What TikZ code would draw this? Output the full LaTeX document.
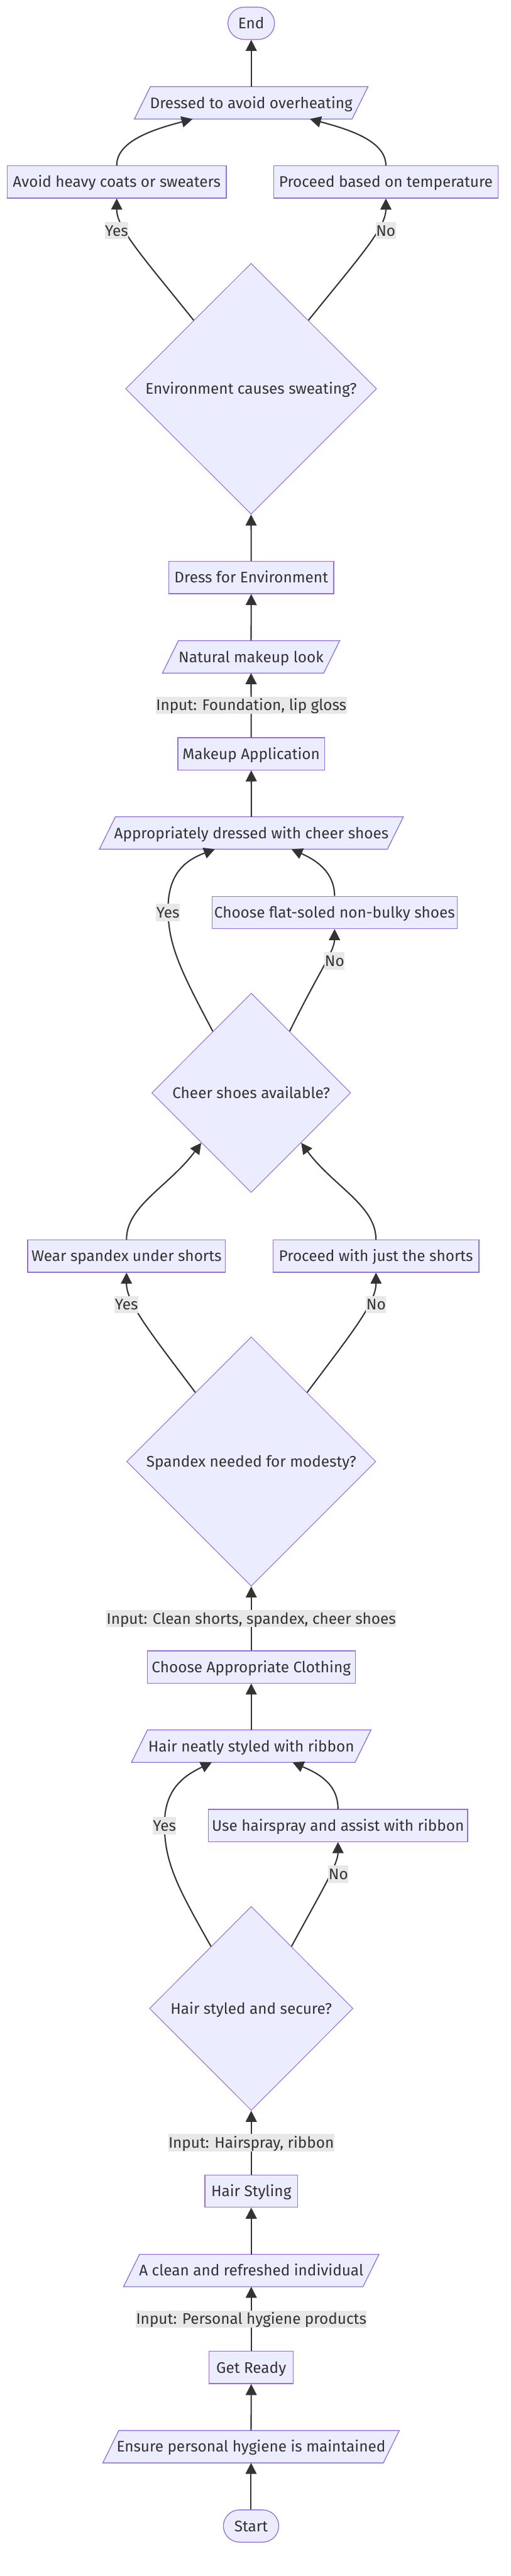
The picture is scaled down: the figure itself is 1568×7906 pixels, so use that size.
\documentclass[tikz,border=0pt]{standalone}
\usepackage{fontspec}
\setmainfont{Fira Sans}
\usetikzlibrary{shapes.geometric,shapes.misc,arrows.meta,backgrounds}
\definecolor{nodefill}{HTML}{ECECFF}
\definecolor{nodeline}{HTML}{9370DB}
\definecolor{edgecol}{HTML}{333333}
\definecolor{lblbg}{HTML}{E8E8E8}
\newcommand\drawpara[1]{\path[draw=nodeline, fill=nodefill, line width=2.5pt]
  ([xshift=-24.5pt]#1.south west) -- ([xshift=-24.5pt]#1.south east) --
  ([xshift=24.5pt]#1.north east) -- ([xshift=24.5pt]#1.north west) -- cycle;}
\tikzset{
  base/.style={font=\fontsize{47pt}{56pt}\selectfont, text=edgecol, inner sep=0pt,
    text height=33pt, text depth=0pt, align=center},
  proc/.style={base, rectangle, draw=nodeline, fill=nodefill, line width=2.5pt, minimum height=99pt},
  term/.style={base, rounded rectangle, draw=nodeline, fill=nodefill, line width=2.5pt, minimum height=99pt},
  decision/.style={base, diamond, aspect=1, draw=nodeline, fill=nodefill, line width=2pt},
  paratext/.style={base, minimum height=99pt},
  lbl/.style={base, fill=lblbg, minimum height=53pt, inner xsep=1pt},
  arr/.style={draw=edgecol, line width=4pt, -{Triangle[length=34pt,width=34pt]}}
}
\begin{document}
\begin{tikzpicture}[x=1pt,y=-1pt]
\useasboundingbox (0,0) rectangle (1568,7906);

% nodes
\node[term, minimum width=143pt] (end) at (771.5,71.5) {End};
\node[paratext, minimum width=668pt] (dressed) at (771.5,315.5) {Dressed to avoid overheating};
\node[proc, minimum width=673pt] (avoid) at (358.5,558.5) {Avoid heavy coats or sweaters};
\node[proc, minimum width=690pt] (ptemp) at (1185,558.5) {Proceed based on temperature};
\node[decision, minimum width=771pt, minimum height=770pt] (env) at (771,1193) {Environment causes sweating?};
\node[proc, minimum width=507pt] (dressenv) at (771.5,1772.5) {Dress for Environment};
\node[paratext, minimum width=495pt] (natural) at (771,2016) {Natural makeup look};
\node[proc, minimum width=451pt] (makeup) at (771.5,2313.5) {Makeup Application};
\node[paratext, minimum width=884pt] (appr) at (772,2556.5) {Appropriately dressed with cheer shoes};
\node[proc, minimum width=753pt] (flat) at (1027.5,2800.5) {Choose flat-soled non-bulky shoes};
\node[decision, minimum width=611pt, minimum height=612pt] (cheer) at (771.5,3354) {Cheer shoes available?};
\node[proc, minimum width=607pt] (wear) at (388.5,3855) {Wear spandex under shorts};
\node[proc, minimum width=633pt] (just) at (1154.5,3855) {Proceed with just the shorts};
\node[decision, minimum width=765pt, minimum height=765pt] (spx) at (771.5,4485.5) {Spandex needed for modesty?};
\node[proc, minimum width=639pt] (clothing) at (771.5,5116) {Choose Appropriate Clothing};
\node[paratext, minimum width=686pt] (neat) at (771.5,5359) {Hair neatly styled with ribbon};
\node[proc, minimum width=796pt] (usehs) at (1038,5602.5) {Use hairspray and assist with ribbon};
\node[decision, minimum width=625pt, minimum height=626pt] (hair) at (771.5,6164) {Hair styled and secure?};
\node[proc, minimum width=285pt] (hstyle) at (771.5,6724.5) {Hair Styling};
\node[paratext, minimum width=735pt] (clean) at (771.5,6968.5) {A clean and refreshed individual};
\node[proc, minimum width=259pt] (ready) at (771.5,7266) {Get Ready};
\node[paratext, minimum width=861pt] (ensure) at (771,7509) {Ensure personal hygiene is maintained};
\node[term, minimum width=170pt] (start) at (771,7752.5) {Start};

\begin{pgfonlayer}{background}
\fill[white] (0,0) rectangle (1568,7906);
\drawpara{dressed}
\drawpara{natural}
\drawpara{appr}
\drawpara{neat}
\drawpara{clean}
\drawpara{ensure}
\end{pgfonlayer}

% straight edges
\draw[arr] (start.north) -- (ensure.south);
\draw[arr] (ensure.north) -- (ready.south);
\draw[arr] (ready.north) -- (clean.south);
\draw[arr] (clean.north) -- (hstyle.south);
\draw[arr] (hstyle.north) -- (hair.south);
\draw[arr] (neat.north) -- (clothing.south);
\draw[arr] (clothing.north) -- (spx.south);
\draw[arr] (appr.north) -- (makeup.south);
\draw[arr] (makeup.north) -- (natural.south);
\draw[arr] (natural.north) -- (dressenv.south);
\draw[arr] (dressenv.north) -- (env.south);
\draw[arr] (dressed.north) -- (end.south);

% curved edges
\draw[arr] (env.130) .. controls (440,790) and (358,700) .. (avoid.south);
\draw[arr] (env.50) .. controls (1103,790) and (1185,700) .. (ptemp.south);
\draw[arr] (avoid.north) .. controls (358,430) and (480,395) .. ([xshift=-180pt]dressed.south);
\draw[arr] (ptemp.north) .. controls (1185,430) and (1063,395) .. ([xshift=180pt]dressed.south);

\draw[arr] (cheer.122) .. controls (555,2980) and (516,2900) .. (516,2790) .. controls (516,2680) and (570,2640) .. ([xshift=-112pt]appr.south);
\draw[arr] (cheer.58) .. controls (975,2990) and (1027,2920) .. (flat.south);
\draw[arr] (flat.north) .. controls (1027,2670) and (960,2635) .. ([xshift=123pt]appr.south);

\draw[arr] (spx.129) .. controls (470,4100) and (388,4000) .. (wear.south);
\draw[arr] (spx.51) .. controls (1073,4100) and (1155,4000) .. (just.south);
\draw[arr] (wear.north) .. controls (388,3700) and (520,3640) .. (cheer.225);
\draw[arr] (just.north) .. controls (1155,3700) and (1023,3640) .. (cheer.-45);

\draw[arr] (hair.123) .. controls (550,5800) and (505,5720) .. (505,5600) .. controls (505,5490) and (565,5450) .. ([xshift=-121pt]neat.south);
\draw[arr] (hair.57) .. controls (990,5800) and (1038,5720) .. (usehs.south);
\draw[arr] (usehs.north) .. controls (1038,5470) and (970,5440) .. ([xshift=127pt]neat.south);

% edge labels
\node[lbl] (l1) at (358,707.5) {Yes};
\node[lbl] (l2) at (1184.5,707.5) {No};
\node[lbl] (l3) at (771.5,2164.5) {Input: Foundation, lip gloss};
\node[lbl] (l4) at (515.5,2800.5) {Yes};
\node[lbl] (l5) at (1027.5,2949.5) {No};
\node[lbl] (l6) at (388.5,4004) {Yes};
\node[lbl] (l7) at (1155,4004) {No};
\node[lbl] (l8) at (771.5,4967.5) {Input: Clean shorts, spandex, cheer shoes};
\node[lbl] (l9) at (505,5603) {Yes};
\node[lbl] (l10) at (1039,5751.5) {No};
\node[lbl] (l11) at (771.5,6576) {Input: Hairspray, ribbon};
\node[lbl] (l12) at (771.5,7117) {Input: Personal hygiene products};
\end{tikzpicture}
\end{document}
